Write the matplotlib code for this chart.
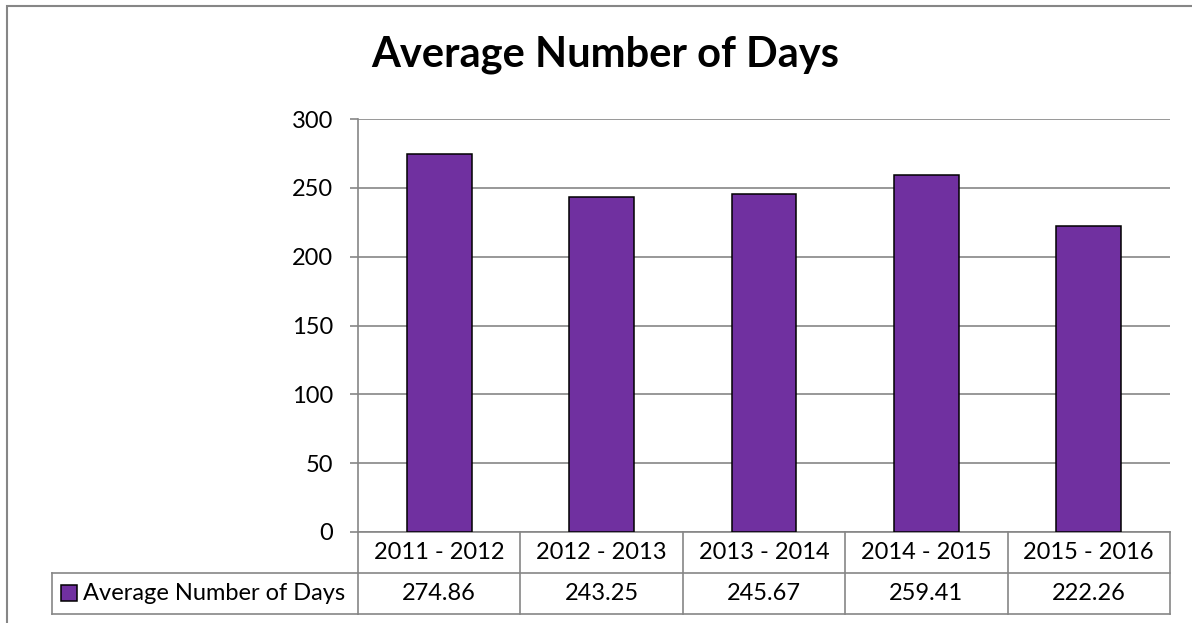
import matplotlib.pyplot as plt
from matplotlib.patches import Rectangle
import matplotlib.transforms as mtransforms

# Data
categories = ['2011 - 2012', '2012 - 2013', '2013 - 2014', '2014 - 2015', '2015 - 2016']
values = [274.86, 243.25, 245.67, 259.41, 222.26]
value_labels = ['274.86', '243.25', '245.67', '259.41', '222.26']
series_name = 'Average Number of Days'
y_ticks = [0, 50, 100, 150, 200, 250, 300]

plt.rcParams['font.family'] = ['Lato', 'DejaVu Sans']

W, H = 1192, 623
fig = plt.figure(figsize=(W / 100, H / 100), dpi=100)

grid_col = '#868686'
bar_col = '#7030A0'
fs = 17

# chart area border (runs off the right and bottom edges)
fig.patches.append(Rectangle((7 / W, -0.1), 1.2, 1 - 6 / H + 0.1, transform=fig.transFigure,
                             fill=False, edgecolor=grid_col, linewidth=1.5))

ax = fig.add_axes([358 / W, 1 - 532 / H, (1170 - 358) / W, (532 - 119) / H])
x = list(range(len(categories)))
ax.bar(x, values, width=0.4, color=bar_col, edgecolor='black', linewidth=1.1, zorder=3)
ax.set_xlim(-0.5, len(categories) - 0.5)
ax.set_ylim(0, 300)
ax.set_yticks(y_ticks)
ax.set_xticks([])
ax.yaxis.grid(True, color=grid_col, linewidth=1.2)
ax.tick_params(axis='y', length=6, width=1.2, color=grid_col, pad=12, labelsize=fs)
for side in ['top', 'right', 'bottom']:
    ax.spines[side].set_visible(False)
ax.spines['left'].set_color(grid_col)
ax.spines['left'].set_linewidth(1.2)

# data table below the plot
row_h = 41 / (532 - 119)
trans = mtransforms.blended_transform_factory(ax.transData, ax.transAxes)
lk = dict(color=grid_col, linewidth=1.2, clip_on=False)
x0, x1 = -0.5, len(categories) - 0.5
# horizontal lines
ax.plot([x0, x1], [0, 0], transform=trans, **lk)
ax.plot([x0, x1], [-row_h, -row_h], transform=trans, **lk)
ax.plot([x0, x1], [-2 * row_h, -2 * row_h], transform=trans, **lk)
leg_left = (52 - 358) / (1170 - 358)
ax.plot([leg_left, 0], [-row_h, -row_h], transform=ax.transAxes, **lk)
ax.plot([leg_left, 0], [-2 * row_h, -2 * row_h], transform=ax.transAxes, **lk)
ax.plot([leg_left, leg_left], [-row_h, -2 * row_h], transform=ax.transAxes, **lk)
# vertical lines
for i in range(len(categories) + 1):
    ax.plot([i - 0.5, i - 0.5], [0, -2 * row_h], transform=trans, **lk)
for i, (c, v) in enumerate(zip(categories, value_labels)):
    ax.text(i, -row_h / 2, c, transform=trans, ha='center', va='center', fontsize=fs)
    ax.text(i, -1.5 * row_h, v, transform=trans, ha='center', va='center', fontsize=fs)

# legend key in the table
fig.patches.append(Rectangle((61 / W, 1 - 601 / H), 16 / W, 16 / H, transform=fig.transFigure,
                             facecolor=bar_col, edgecolor='black', linewidth=1.1))
fig.text(83 / W, 1 - 594 / H, series_name, ha='left', va='center', fontsize=fs)

fig.text(605 / W, 1 - 66 / H, 'Average Number of Days', ha='center', va='baseline',
         fontsize=30, fontweight='bold')

fig.savefig('out.png', dpi=100)
